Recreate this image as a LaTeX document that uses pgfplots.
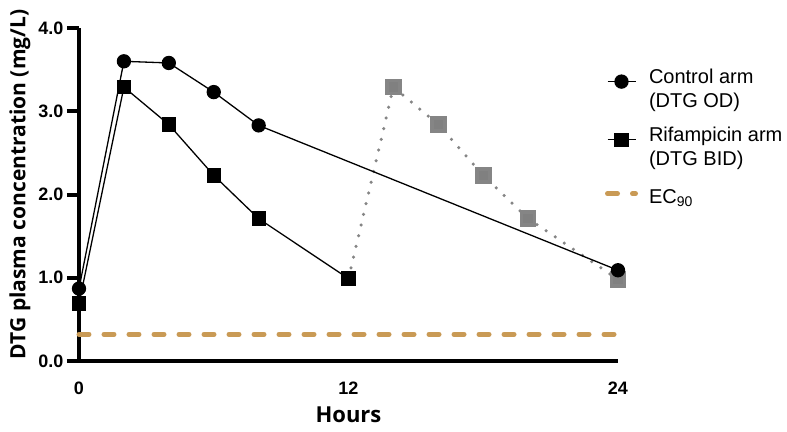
\documentclass[border=0pt]{standalone}
\usepackage{fontspec}
\setmainfont{Liberation Sans}
\newfontfamily\opensans{Open Sans}
\usepackage{pgfplots}
\pgfplotsset{compat=1.18}
\definecolor{Tan}{HTML}{C99A55}
\definecolor{Dots}{HTML}{858585}

\begin{document}
\begin{tikzpicture}
  \begin{axis}[
      at={(0,0)}, anchor=south west,
      scale only axis,
      width=539pt, height=333pt,
      xmin=0, xmax=24, ymin=0, ymax=4,
      clip=false,
      axis x line=bottom, axis y line=left,
      axis line style={line width=4pt, -},
      xtick={0,12,24}, ytick={0,1,2,3,4},
      tick align=outside,
      major tick length=12pt,
      ytick style={line width=4pt, black},
      xtick style={draw=none},
      /pgf/number format/assume math mode=true,
      yticklabel style={font=\bfseries\fontsize{18}{18}\selectfont,
        /pgf/number format/.cd, fixed, fixed zerofill, precision=1},
      xticklabel style={font=\bfseries\fontsize{18}{18}\selectfont, yshift=-5pt},
      xlabel={Hours},
      ylabel={DTG plasma concentration (mg/L)},
      every axis x label/.style={at={(axis description cs:0.5,-0.16)}, anchor=center,
        font=\opensans\bfseries\fontsize{22}{26}\selectfont},
      every axis y label/.style={at={(axis description cs:-0.1095,0.53)}, rotate=90, anchor=center,
        font=\opensans\bfseries\fontsize{21}{25}\selectfont},
      legend style={at={(1,1)}, anchor=north west, xshift=-13pt, yshift=-38pt,
        draw=none, fill=none, inner sep=0pt, outer sep=0pt, row sep=27pt,
        nodes={inner sep=0pt},
        font=\fontsize{20}{24.5}\selectfont},
      legend cell align=left,
      legend image code/.code={
        \draw[mark repeat=2, mark phase=2, #1] plot coordinates {(0pt,0pt) (14pt,0pt) (28pt,0pt)};
        \path (0pt,0pt) (39pt,0pt);},
    ]
    % second BID dose, drawn under the control arm
    \addplot[forget plot, Dots, line width=3.5pt, line cap=round, dash pattern=on 0pt off 11pt,
      mark=square*, mark size=6.5pt, mark indices={2,3,4,5,6},
      mark options={solid, fill=gray, draw=none}]
      coordinates {(12,0.99) (14,3.29) (16,2.84) (18,2.23) (20,1.71) (24,0.98)};

    \addplot[black, line width=1.3pt, mark=*, mark size=6.5pt]
      coordinates {(0,0.87) (2,3.60) (4,3.58) (6,3.23) (8,2.83) (24,1.09)};
    \addlegendentry{\begin{tabular}{@{}l@{}}Control arm\\(DTG OD)\end{tabular}}

    \addplot[black, line width=1.3pt, mark=square*, mark size=6.5pt]
      coordinates {(0,0.69) (2,3.29) (4,2.84) (6,2.23) (8,1.71) (12,0.99)};
    \addlegendentry{\begin{tabular}{@{}l@{}}Rifampicin arm\\(DTG BID)\end{tabular}}

    \addplot[Tan, line width=5pt, line cap=round, dash pattern=on 10pt off 15pt]
      coordinates {(0,0.32) (24,0.32)};
    \addlegendentry{\rule{0pt}{21pt}EC\textsubscript{90}}
  \end{axis}
  \pgfresetboundingbox
  \path[use as bounding box] (-79pt,-70pt) rectangle (708pt,361pt);
\end{tikzpicture}
\end{document}
